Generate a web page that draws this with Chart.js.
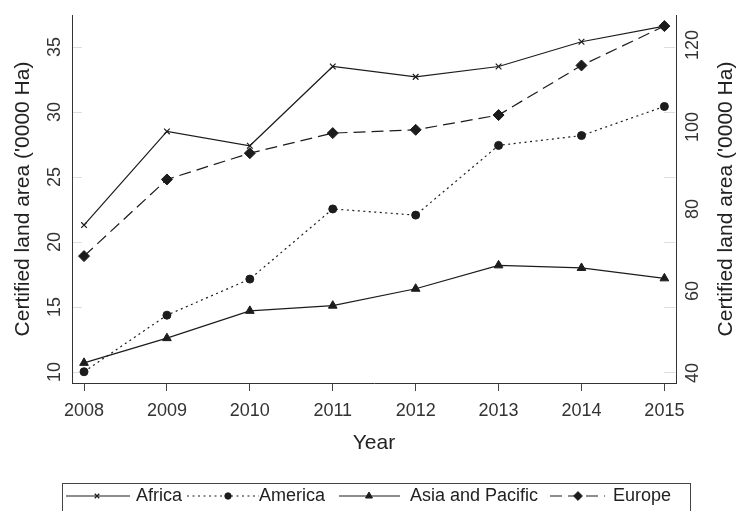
<!DOCTYPE html>
<html>
<head>
<meta charset="utf-8">
<script src="https://cdn.jsdelivr.net/npm/chart.js@4/dist/chart.umd.min.js"></script>
<style>
  html, body { margin: 0; padding: 0; background: #ffffff; }
  #wrap { position: relative; width: 739px; height: 511px; }
</style>
</head>
<body>
<div id="wrap"><canvas id="chart" width="739" height="511"></canvas></div>
<script>
// Certified land area by region, 2008-2015 ('0000 Ha)
const years = [2008, 2009, 2010, 2011, 2012, 2013, 2014, 2015];
// left axis
const africa      = [21.3, 28.5, 27.4, 33.5, 32.7, 33.5, 35.4, 36.6];
const asiaPacific = [10.7, 12.6, 14.7, 15.1, 16.4, 18.2, 18.0, 17.2];
// right axis
const america     = [40.3, 54.1, 62.9, 80.0, 78.5, 95.5, 97.9, 105.0];
const europe      = [68.5, 87.2, 93.6, 98.5, 99.3, 102.9, 115.0, 124.6];

const seriesNames = ['Africa', 'America', 'Asia and Pacific', 'Europe'];
const leftTicks  = [10, 15, 20, 25, 30, 35];
const rightTicks = [40, 60, 80, 100, 120];
const xTitle = 'Year';
const yTitle = "Certified land area ('0000 Ha)";

const FONT = '"Liberation Sans", Arial, Helvetica, sans-serif';
const INK = '#1c1c1c';

const toPoints = vals => years.map((yr, i) => ({ x: yr, y: vals[i] }));

const datasets = [
  { label: seriesNames[0], data: toPoints(africa), yAxisID: 'yL',
    borderDash: [], pointStyle: 'crossRot', pointRadius: 4, pointBorderWidth: 1.2 },
  { label: seriesNames[1], data: toPoints(america), yAxisID: 'yR',
    borderDash: [2, 3.5], pointStyle: 'circle', pointRadius: 4, pointBorderWidth: 1 },
  { label: seriesNames[2], data: toPoints(asiaPacific), yAxisID: 'yL',
    borderDash: [], pointStyle: 'triangle', pointRadius: 5, pointBorderWidth: 1 },
  { label: seriesNames[3], data: toPoints(europe), yAxisID: 'yR',
    borderDash: [12, 6], pointStyle: 'rectRot', pointRadius: 5.5, pointBorderWidth: 1 }
].map(d => Object.assign({
  borderColor: INK, backgroundColor: INK, pointBackgroundColor: INK,
  pointBorderColor: INK, borderWidth: 1.2, tension: 0, fill: false
}, d));

// faint inner tick stubs along both vertical borders
const innerTicks = {
  id: 'innerTicks',
  beforeDatasetsDraw(chart) {
    const { ctx, chartArea: a } = chart;
    const s = chart.scales.yL;
    ctx.save();
    ctx.strokeStyle = '#dedede';
    ctx.lineWidth = 1;
    leftTicks.forEach(v => {
      const p = Math.round(s.getPixelForValue(v)) + 0.5;
      ctx.beginPath();
      ctx.moveTo(a.left + 1, p); ctx.lineTo(a.left + 10, p);
      ctx.moveTo(a.right - 12, p); ctx.lineTo(a.right - 1, p);
      ctx.stroke();
    });
    ctx.restore();
  }
};

// right-hand axis title, reading bottom to top
const rightTitle = {
  id: 'rightTitle',
  afterDraw(chart) {
    const { ctx, chartArea: a } = chart;
    ctx.save();
    ctx.translate(726, (a.top + a.bottom) / 2);
    ctx.rotate(-Math.PI / 2);
    ctx.font = '21px ' + FONT;
    ctx.fillStyle = '#222';
    ctx.textAlign = 'center';
    ctx.textBaseline = 'middle';
    ctx.fillText(yTitle, 0, 0);
    ctx.restore();
  }
};

// boxed legend with line + marker samples
const boxLegend = {
  id: 'boxLegend',
  afterDraw(chart) {
    const ctx = chart.ctx;
    const slots = [
      { x0: 66,  x1: 130, mx: 97,  tx: 136 },
      { x0: 187, x1: 259, mx: 228, tx: 259 },
      { x0: 339, x1: 400, mx: 369, tx: 410 },
      { x0: 550, x1: 605, mx: 578, tx: 613 }
    ];
    const cy = 496;
    ctx.save();
    ctx.strokeStyle = '#444';
    ctx.lineWidth = 1;
    ctx.strokeRect(62.5, 483.5, 628, 40);
    chart.data.datasets.forEach((ds, i) => {
      const s = slots[i];
      ctx.save();
      ctx.strokeStyle = ds.borderColor;
      ctx.lineWidth = ds.borderWidth;
      ctx.setLineDash(ds.borderDash);
      ctx.beginPath();
      ctx.moveTo(s.x0, cy); ctx.lineTo(s.x1, cy);
      ctx.stroke();
      ctx.setLineDash([]);
      ctx.fillStyle = ds.pointBackgroundColor;
      ctx.strokeStyle = ds.pointBorderColor;
      ctx.lineWidth = ds.pointBorderWidth;
      Chart.helpers.drawPoint(ctx, {
        pointStyle: ds.pointStyle, rotation: 0,
        radius: ds.pointRadius * 0.8, borderWidth: ds.pointBorderWidth
      }, s.mx, cy);
      ctx.restore();
      ctx.font = '18px ' + FONT;
      ctx.fillStyle = '#222';
      ctx.textAlign = 'left';
      ctx.textBaseline = 'middle';
      ctx.fillText(ds.label, s.tx, cy);
    });
    ctx.restore();
  }
};

const tickFont = { family: FONT, size: 18 };
const titleFont = { family: FONT, size: 21 };

new Chart(document.getElementById('chart'), {
  type: 'line',
  data: { datasets },
  plugins: [innerTicks, rightTitle, boxLegend],
  options: {
    responsive: false,
    animation: false,
    devicePixelRatio: 1,
    layout: { padding: { top: 15, bottom: 48, left: 0, right: 0 } },
    plugins: { legend: { display: false }, tooltip: { enabled: false } },
    scales: {
      x: {
        type: 'linear',
        position: 'bottom',
        min: 2007.855,
        max: 2015.14,
        afterBuildTicks: s => { s.ticks = years.map(v => ({ value: v })); },
        afterFit: s => { s.height = 80; s.paddingLeft = 0; s.paddingRight = 0; },
        ticks: { color: '#333', font: tickFont, padding: 9, maxRotation: 0, minRotation: 0,
                 callback: v => String(v) },
        grid: { drawOnChartArea: false, drawTicks: true, tickLength: 8, tickColor: '#444', tickWidth: 1 },
        border: { display: true, color: '#333', width: 1 },
        title: { display: true, text: xTitle, color: '#222', font: titleFont, padding: { top: 0, bottom: 7 } }
      },
      yL: {
        type: 'linear',
        position: 'left',
        min: 9.15,
        max: 37.46,
        afterBuildTicks: s => { s.ticks = leftTicks.map(v => ({ value: v })); },
        afterFit: s => { s.width = 72; s.paddingTop = 0; s.paddingBottom = 0; },
        ticks: { color: '#333', font: tickFont, padding: 7, minRotation: 90, maxRotation: 90,
                 crossAlign: 'center' },
        grid: { drawOnChartArea: false, drawTicks: false },
        border: { display: true, color: '#333', width: 1 },
        title: { display: true, text: yTitle, color: '#222', font: titleFont, padding: { top: 11, bottom: 0 } }
      },
      yR: {
        type: 'linear',
        position: 'right',
        min: 37.56,
        max: 127.3,
        afterBuildTicks: s => { s.ticks = rightTicks.map(v => ({ value: v })); },
        afterFit: s => { s.width = 63; s.paddingTop = 0; s.paddingBottom = 0; },
        ticks: { color: '#333', font: tickFont, padding: 2, minRotation: 90, maxRotation: 90,
                 crossAlign: 'center' },
        grid: { drawOnChartArea: false, drawTicks: false },
        border: { display: true, color: '#333', width: 1 },
        title: { display: false, text: yTitle }
      }
    }
  }
});
</script>
</body>
</html>
